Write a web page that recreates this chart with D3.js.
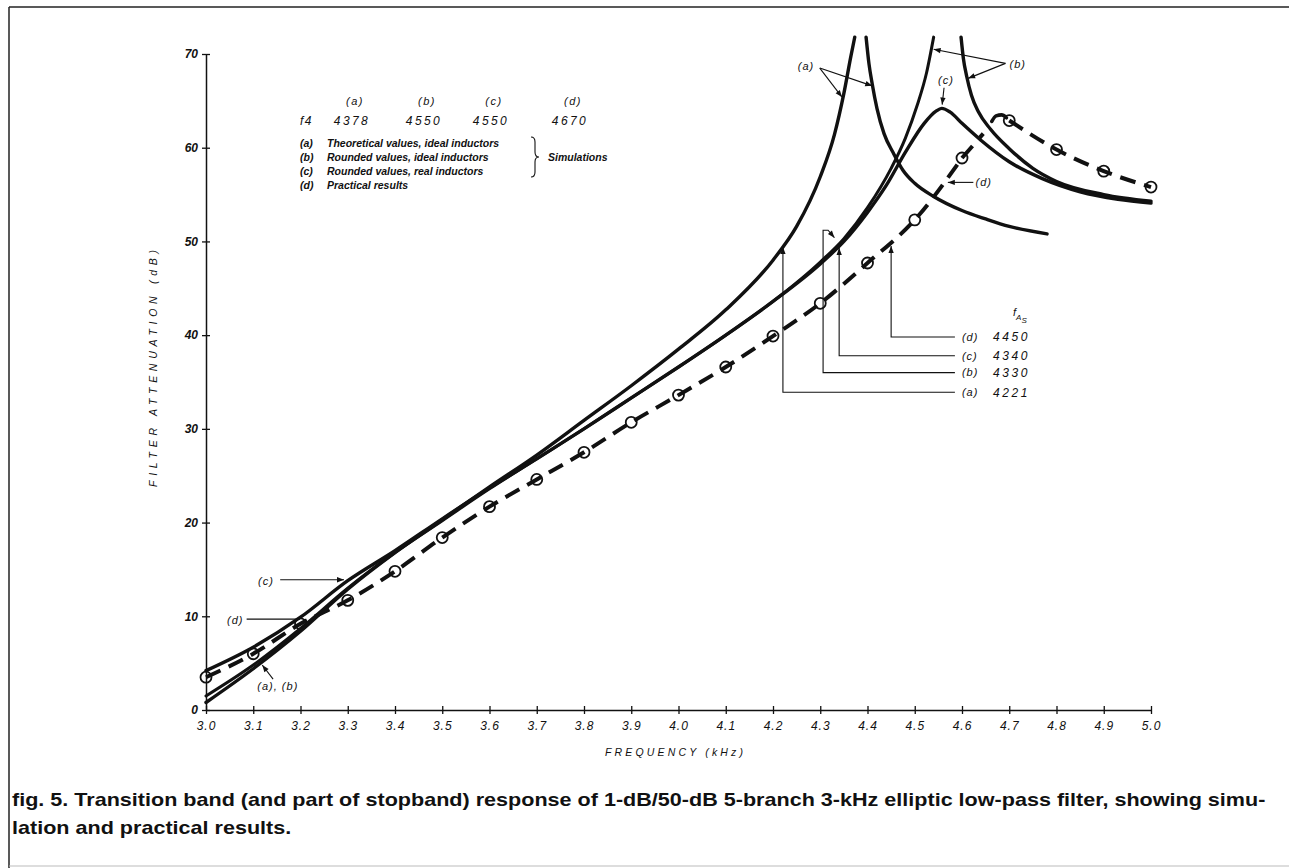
<!DOCTYPE html>
<html>
<head>
<meta charset="utf-8">
<script src="https://cdn.jsdelivr.net/npm/d3@7"></script>
<style>
  html, body { margin: 0; padding: 0; background: #fff; }
  svg { display: block; }
</style>
</head>
<body>
<script>
// ---------------- DATA ----------------
// x axis ticks (kHz)
const xTickValues = [3.0,3.1,3.2,3.3,3.4,3.5,3.6,3.7,3.8,3.9,4.0,4.1,4.2,4.3,4.4,4.5,4.6,4.7,4.8,4.9,5.0];
const xTickLabels = ["3.0","3.1","3.2","3.3","3.4","3.5","3.6","3.7","3.8","3.9","4.0","4.1","4.2","4.3","4.4","4.5","4.6","4.7","4.8","4.9","5.0"];
// y axis ticks (dB)
const yTickValues = [0,10,20,30,40,50,60,70];
const yTickLabels = ["0","10","20","30","40","50","60","70"];

// (a) theoretical values, ideal inductors — rising branch
const freqA  = [3.0, 3.1, 3.2, 3.3, 3.4, 3.5, 3.6, 3.7, 3.8, 3.9, 4.0, 4.1, 4.2, 4.25, 4.3, 4.33, 4.35, 4.365, 4.373];
const dbA    = [0.8, 4.4, 8.4, 12.9, 16.8, 20.3, 23.8, 27.2, 30.9, 34.6, 38.5, 42.7, 48.0, 51.6, 56.9, 61.4, 65.8, 69.8, 71.8];
// (a) falling branch beyond pole
const freqA2 = [4.397, 4.403, 4.41, 4.42, 4.435, 4.455, 4.475, 4.5, 4.54, 4.6, 4.65, 4.7, 4.78];
const dbA2   = [71.8, 69.0, 66.8, 64.2, 61.5, 59.4, 57.6, 56.2, 54.8, 53.3, 52.4, 51.6, 50.8];

// (b) rounded values, ideal inductors — rising branch
const freqB  = [3.0, 3.1, 3.2, 3.3, 3.4, 3.5, 3.6, 3.7, 3.8, 3.9, 4.0, 4.1, 4.2, 4.3, 4.35, 4.4, 4.45, 4.48, 4.505, 4.525, 4.54];
const dbB    = [1.5, 4.8, 8.7, 13.0, 16.8, 20.2, 23.6, 26.8, 30.0, 33.3, 36.6, 40.0, 43.6, 47.8, 50.3, 53.6, 57.8, 61.0, 64.5, 68.0, 71.8];
// (b) falling branch
const freqB2 = [4.598, 4.603, 4.61, 4.62, 4.635, 4.66, 4.7, 4.75, 4.8, 4.9, 5.0];
const dbB2   = [71.8, 69.5, 67.6, 65.6, 63.8, 62.0, 59.9, 57.8, 56.4, 55.0, 54.3];

// (c) rounded values, real inductors
const freqC  = [3.0, 3.1, 3.2, 3.3, 3.4, 3.5, 3.6, 3.7, 3.8, 3.9, 4.0, 4.1, 4.2, 4.3, 4.35, 4.4, 4.44, 4.48, 4.52, 4.545, 4.557, 4.575, 4.6, 4.64, 4.7, 4.77, 4.85, 4.93, 5.0];
const dbC    = [4.2, 6.7, 9.9, 13.8, 17.0, 20.4, 23.7, 26.8, 30.0, 33.3, 36.6, 40.0, 43.6, 47.6, 50.0, 53.1, 56.0, 59.5, 62.6, 63.9, 64.2, 63.8, 62.6, 60.8, 58.5, 56.7, 55.3, 54.5, 54.1];

// (d) practical results — measured points
const freqD  = [3.0, 3.1, 3.2, 3.3, 3.4, 3.5, 3.6, 3.7, 3.8, 3.9, 4.0, 4.1, 4.2, 4.3, 4.4, 4.5, 4.6];
const dbD    = [3.5, 6.0, 9.2, 11.7, 14.8, 18.4, 21.7, 24.6, 27.5, 30.7, 33.6, 36.6, 39.9, 43.4, 47.7, 52.3, 58.9];
const freqDext = [4.6, 4.645];
const dbDext   = [58.9, 61.5];
const freqHook = [4.663, 4.672, 4.684, 4.694];
const dbHook   = [62.8, 63.4, 63.5, 63.2];
const freqD2 = [4.7, 4.8, 4.9, 5.0];
const dbD2   = [62.9, 59.8, 57.5, 55.8];

// top table
const tableCols   = ["(a)", "(b)", "(c)", "(d)"];
const tableF4     = ["4378", "4550", "4550", "4670"];
const legendKeys  = ["(a)", "(b)", "(c)", "(d)"];
const legendTexts = ["Theoretical values, ideal inductors", "Rounded values, ideal inductors", "Rounded values, real inductors", "Practical results"];

// f_As table
const fasKeys   = ["(d)", "(c)", "(b)", "(a)"];
const fasValues = [4450, 4340, 4330, 4221];
const fasRowDb  = [39.8, 37.8, 36.0, 33.9];
const fasTipDb  = [49.5, 49.3, 51.2, 49.4];

const captionLines = [
  "fig. 5. Transition band (and part of stopband) response of 1-dB/50-dB 5-branch 3-kHz elliptic low-pass filter, showing simu-",
  "lation and practical results."
];

// ---------------- DRAW ----------------
const W = 1289, H = 868;
const FONT = "'Liberation Sans', Arial, Helvetica, sans-serif";
const svg = d3.select("body").append("svg").attr("width", W).attr("height", H)
  .style("font-family", FONT);

const x = d3.scaleLinear().domain([3, 5]).range([206, 1151]);
const y = d3.scaleLinear().domain([0, 70]).range([710, 54]);

// page frame
svg.append("line").attr("x1", 9).attr("y1", 7).attr("x2", W).attr("y2", 7).attr("stroke", "#222").attr("stroke-width", 1.5);
svg.append("line").attr("x1", 9).attr("y1", 7).attr("x2", 9).attr("y2", H).attr("stroke", "#222").attr("stroke-width", 1.5);
svg.append("line").attr("x1", 9).attr("y1", 866).attr("x2", W).attr("y2", 866).attr("stroke", "#bbb").attr("stroke-width", 1);

// arrow marker
const defs = svg.append("defs");
defs.append("marker").attr("id", "ah").attr("viewBox", "0 0 10 10")
  .attr("refX", 10).attr("refY", 5).attr("markerWidth", 9).attr("markerHeight", 7)
  .attr("markerUnits", "userSpaceOnUse").attr("orient", "auto")
  .append("path").attr("d", "M0,1.2 L10,5 L0,8.8 Z").attr("fill", "#111");

// axes
const xAxis = d3.axisBottom(x).tickValues(xTickValues)
  .tickFormat((d, i) => xTickLabels[i]).tickSizeInner(4).tickSizeOuter(0).tickPadding(7);
const gx = svg.append("g").attr("transform", `translate(0,${y(0)})`).call(xAxis);
gx.select(".domain").attr("stroke", "#111").attr("stroke-width", 1.5);
gx.selectAll(".tick line").attr("y1", -4).attr("y2", 4).attr("stroke", "#111").attr("stroke-width", 1.3);
gx.selectAll(".tick text").attr("font-size", 12).attr("font-style", "italic")
  .attr("font-family", FONT).attr("letter-spacing", 1).attr("fill", "#111");
gx.attr("font-family", null).attr("font-size", null);

const yAxis = d3.axisLeft(y).tickValues(yTickValues)
  .tickFormat((d, i) => yTickLabels[i]).tickSizeInner(4).tickSizeOuter(0).tickPadding(4);
const gy = svg.append("g").attr("transform", `translate(${x(3)},0)`).call(yAxis);
gy.select(".domain").attr("stroke", "#111").attr("stroke-width", 1.5);
gy.selectAll(".tick line").attr("x1", -4).attr("x2", 4).attr("stroke", "#111").attr("stroke-width", 1.3);
gy.selectAll(".tick text").attr("font-size", 12).attr("font-style", "italic").attr("font-weight", "bold")
  .attr("font-family", FONT).attr("fill", "#111");
gy.attr("font-family", null).attr("font-size", null);

// axis titles
svg.append("text").attr("transform", `translate(157,${(250 + 487) / 2}) rotate(-90)`)
  .attr("text-anchor", "middle").attr("font-size", 10.5).attr("font-style", "italic")
  .attr("textLength", 237).attr("lengthAdjust", "spacing").attr("fill", "#111")
  .text("FILTER ATTENUATION (dB)");
svg.append("text").attr("x", 605).attr("y", 756)
  .attr("font-size", 10.5).attr("font-style", "italic")
  .attr("textLength", 138).attr("lengthAdjust", "spacing").attr("fill", "#111")
  .text("FREQUENCY (kHz)");

// curves
const line = d3.line().x(d => x(d[0])).y(d => y(d[1])).curve(d3.curveMonotoneX);
const solid = (fx, fy, w) => svg.append("path").datum(d3.zip(fx, fy)).attr("d", line)
  .attr("fill", "none").attr("stroke", "#111").attr("stroke-width", w || 3.4)
  .attr("stroke-linecap", "round").attr("stroke-linejoin", "round");

solid(freqA, dbA);
solid(freqA2, dbA2);
solid(freqB, dbB, 3.0);
solid(freqB2, dbB2);
solid(freqC, dbC);

// dashed (d)
const dashed = (fx, fy) => svg.append("path").datum(d3.zip(fx, fy)).attr("d", line)
  .attr("fill", "none").attr("stroke", "#111").attr("stroke-width", 4)
  .attr("stroke-dasharray", "16,9");
dashed(freqD, dbD);
dashed(freqDext, dbDext);
dashed(freqD2, dbD2);
solid(freqHook, dbHook, 3.6);

// measured circles
const circF = freqD.concat(freqD2), circDb = dbD.concat(dbD2);
svg.append("g").selectAll("circle").data(d3.zip(circF, circDb)).join("circle")
  .attr("cx", d => x(d[0])).attr("cy", d => y(d[1])).attr("r", 5.5)
  .attr("fill", "none").attr("stroke", "#111").attr("stroke-width", 1.8);

// ---------- annotations ----------
const ann = svg.append("g").attr("fill", "#111");
function arrow(f1, d1, f2, d2, head = true) {
  svg.append("line").attr("x1", x(f1)).attr("y1", y(d1)).attr("x2", x(f2)).attr("y2", y(d2))
    .attr("stroke", "#111").attr("stroke-width", 1.1)
    .attr("marker-end", head ? "url(#ah)" : null);
}
function label(txt, f, d, size = 11) {
  ann.append("text").attr("x", x(f)).attr("y", y(d)).attr("dy", "0.35em")
    .attr("text-anchor", "middle").attr("font-size", size).attr("font-style", "italic")
    .attr("letter-spacing", 1).text(txt);
}

// (a) near top
label("(a)", 4.270, 68.7);
arrow(4.299, 68.5, 4.346, 65.4);
arrow(4.299, 68.5, 4.410, 66.6);
// (b) near top
label("(b)", 4.718, 68.9);
arrow(4.692, 69.0, 4.540, 70.5);
arrow(4.692, 69.0, 4.613, 67.4);
// (c) near peak
label("(c)", 4.566, 67.2);
arrow(4.562, 66.4, 4.558, 64.6);
// (d) upper
label("(d)", 4.646, 56.3);
arrow(4.624, 56.3, 4.570, 56.3);
// bottom-left labels
label("(c)", 3.127, 13.8);
arrow(3.157, 13.9, 3.292, 13.9);
label("(d)", 3.062, 9.6);
arrow(3.086, 9.7, 3.199, 9.7, false);
label("(a), (b)", 3.152, 2.5);
arrow(3.142, 3.3, 3.119, 4.8);

// f_As table with leader arrows
const fasLabelF = 4.585;
fasKeys.forEach((k, i) => {
  const fv = fasValues[i] / 1000;
  const rowY = y(fasRowDb[i]);
  if (k === "(b)") {
    const fv2 = 4.306;
    svg.append("path")
      .attr("d", `M${x(fasLabelF)},${rowY} H${x(fv2)} V${y(fasTipDb[i])} L${x(fv2) + 5},${y(fasTipDb[i])} L${x(fv)},${y(50.4)}`)
      .attr("fill", "none").attr("stroke", "#111").attr("stroke-width", 1.1).attr("marker-end", "url(#ah)");
  } else {
    svg.append("path")
      .attr("d", `M${x(fasLabelF)},${rowY} H${x(fv)} V${y(fasTipDb[i])}`)
      .attr("fill", "none").attr("stroke", "#111").attr("stroke-width", 1.1).attr("marker-end", "url(#ah)");
  }
  ann.append("text").attr("x", x(fasLabelF) + 7).attr("y", rowY).attr("dy", "0.35em")
    .attr("font-size", 11).attr("font-style", "italic").attr("letter-spacing", 1).text(k);
  ann.append("text").attr("x", x(fasLabelF) + 38).attr("y", rowY).attr("dy", "0.35em")
    .attr("font-size", 12).attr("font-style", "italic").attr("letter-spacing", 2.6).text(String(fasValues[i]));
});
// f_As header
const fh = ann.append("text").attr("x", 1013).attr("y", 316).attr("font-style", "italic").attr("font-size", 11);
fh.append("tspan").text("f");
fh.append("tspan").attr("font-size", 8).attr("dy", 4).text("A");
fh.append("tspan").attr("font-size", 8).attr("dy", 3).text("S");

// top table
const colX = [352, 424, 491, 570];
tableCols.forEach((c, i) => {
  ann.append("text").attr("x", colX[i] + 3).attr("y", 105).attr("text-anchor", "middle")
    .attr("font-size", 11).attr("font-style", "italic").attr("letter-spacing", 1.5).text(c);
  ann.append("text").attr("x", colX[i]).attr("y", 125).attr("text-anchor", "middle")
    .attr("font-size", 12).attr("font-style", "italic").attr("letter-spacing", 2.4).text(tableF4[i]);
});
ann.append("text").attr("x", 300).attr("y", 125).attr("font-size", 12).attr("font-style", "italic")
  .attr("letter-spacing", 1.5).text("f4");

const legY = [147, 161, 175, 189];
legendKeys.forEach((k, i) => {
  ann.append("text").attr("x", 300).attr("y", legY[i]).attr("font-size", 10.5)
    .attr("font-style", "italic").attr("font-weight", "bold").text(k);
  ann.append("text").attr("x", 327).attr("y", legY[i]).attr("font-size", 10.5)
    .attr("font-style", "italic").attr("font-weight", "bold").text(legendTexts[i]);
});
// brace + Simulations
svg.append("path")
  .attr("d", "M531,137 Q535,137 535,142 L535,152 Q535,157 539,157 Q535,157 535,162 L535,172 Q535,177 531,177")
  .attr("fill", "none").attr("stroke", "#111").attr("stroke-width", 1.1);
ann.append("text").attr("x", 548).attr("y", 161).attr("font-size", 10.5)
  .attr("font-style", "italic").attr("font-weight", "bold").text("Simulations");

// caption
const capBase = [806, 834];
const capX = 12, capW = 1254;
const c1 = svg.append("text").attr("font-size", 18).attr("font-weight", "bold").attr("fill", "#111").text(captionLines[0]);
const k = capW / c1.node().getComputedTextLength();
c1.attr("transform", `translate(${capX},${capBase[0]}) scale(${k},1)`);
svg.append("text").attr("font-size", 18).attr("font-weight", "bold").attr("fill", "#111")
  .attr("transform", `translate(${capX},${capBase[1]}) scale(${k},1)`).text(captionLines[1]);
</script>
</body>
</html>
